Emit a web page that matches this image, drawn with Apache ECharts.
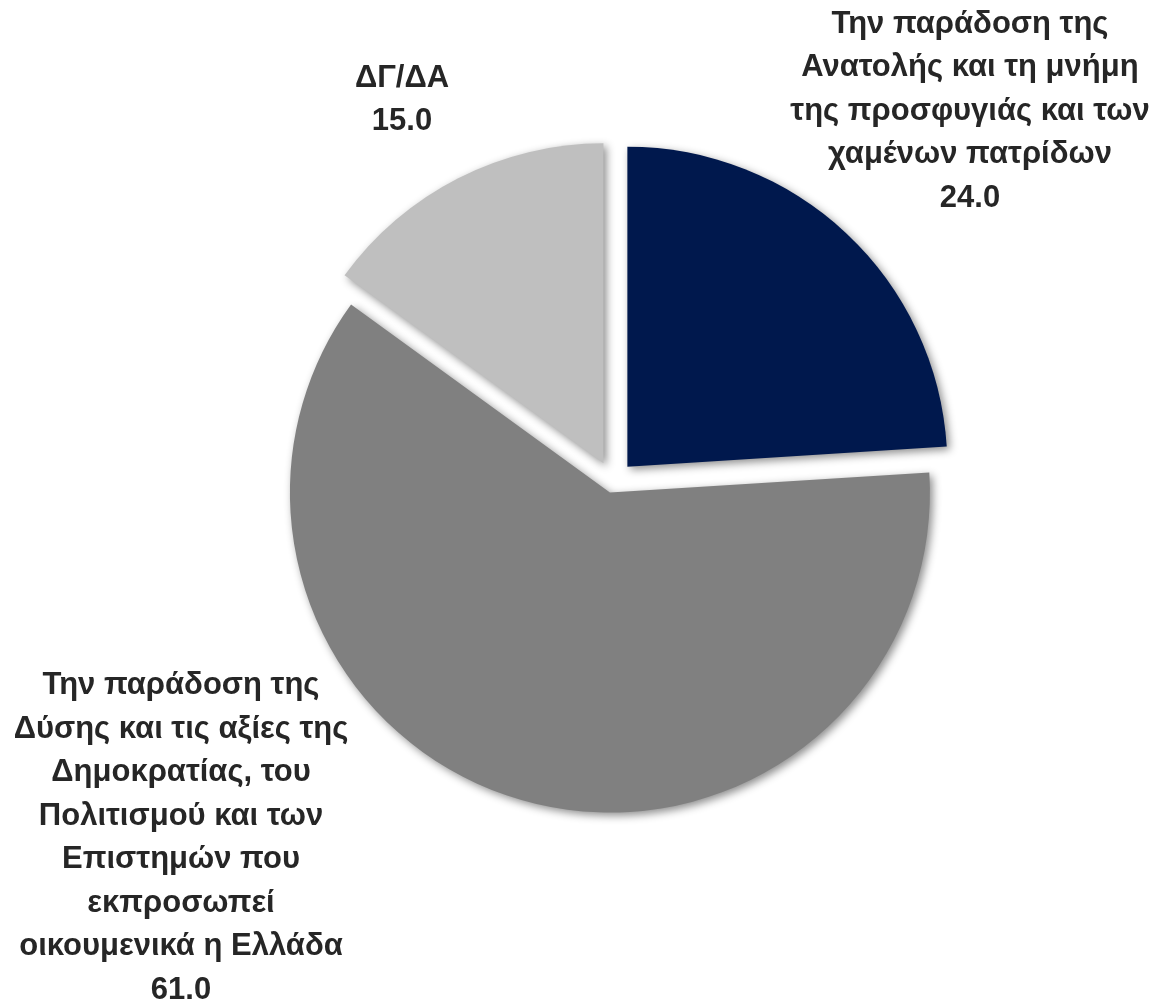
<!DOCTYPE html>
<html>
<head>
<meta charset="utf-8">
<style>
  html, body { margin: 0; padding: 0; background: #ffffff; }
  #chart { width: 1152px; height: 1006px; }
</style>
<script src="https://cdn.jsdelivr.net/npm/echarts@6/dist/echarts.min.js"></script>
</head>
<body>
<div id="chart"></div>
<script>
// ---- data ----
const categories = [
  'Την παράδοση της\nΑνατολής και τη μνήμη\nτης προσφυγιάς και των\nχαμένων πατρίδων',
  'Την παράδοση της\nΔύσης και τις αξίες της\nΔημοκρατίας, του\nΠολιτισμού και των\nΕπιστημών που\nεκπροσωπεί\nοικουμενικά η Ελλάδα',
  'ΔΓ/ΔΑ'
];
const values = [24.0, 61.0, 15.0];
const colors = ['#00184D', '#808080', '#BFBFBF'];

// ---- layout / style ----
const center = [613, 482];
const radius = 320;
const labelAnchors = [[970, 111], [181, 838], [402, 100]];
const smallOffsetItems = [1];          // exploded less
const labelFont = {
  fontFamily: 'Liberation Sans, Arial, sans-serif',
  fontWeight: 'bold',
  fontSize: 31,
  lineHeight: 43.5,
  fill: '#262626'
};

function buildSeries(visibleIdx, offset) {
  return {
    type: 'pie',
    center: center,
    radius: radius,
    startAngle: 90,
    clockwise: true,
    animation: false,
    avoidLabelOverlap: false,
    selectedMode: 'multiple',
    selectedOffset: offset,
    emphasis: { disabled: true },
    label: { show: false },
    labelLine: { show: false },
    data: categories.map((name, i) => {
      const visible = visibleIdx.indexOf(i) >= 0;
      return {
        name: name,
        value: values[i],
        selected: true,
        itemStyle: visible ? {
          color: colors[i],
          borderWidth: 0,
          shadowBlur: 8,
          shadowOffsetX: 3,
          shadowOffsetY: 3,
          shadowColor: 'rgba(0,0,0,0.45)'
        } : { color: 'rgba(0,0,0,0)', borderWidth: 0 },
        select: { itemStyle: visible ? { color: colors[i] } : { color: 'rgba(0,0,0,0)' } }
      };
    })
  };
}

// slice labels (category + value), as real text
const labelGraphics = categories.map((name, i) => ({
  type: 'text',
  x: labelAnchors[i][0],
  y: labelAnchors[i][1],
  silent: true,
  style: Object.assign({
    text: name + '\n' + values[i].toFixed(1),
    align: 'center',
    verticalAlign: 'middle'
  }, labelFont)
}));

const chart = echarts.init(document.getElementById('chart'), null, { renderer: 'canvas' });
chart.setOption({
  backgroundColor: '#ffffff',
  animation: false,
  graphic: labelGraphics,
  series: [
    buildSeries(smallOffsetItems, 11),
    buildSeries([0, 2], 21)
  ]
});
</script>
</body>
</html>
